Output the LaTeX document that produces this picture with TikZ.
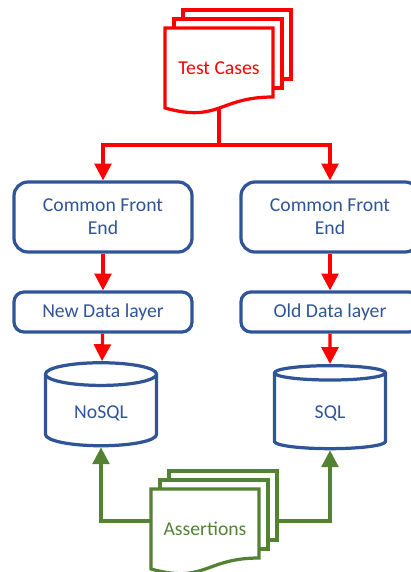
\documentclass[tikz,border=0pt]{standalone}
\usepackage{fontspec}
\setmainfont{Carlito}
\definecolor{rot}{RGB}{255,0,0}
\definecolor{bla}{RGB}{47,85,151}
\definecolor{gru}{RGB}{84,130,53}
\usetikzlibrary{shapes.geometric,arrows.meta}
% stack of three pages: colour, name, x, y (top left of front page), text
\newcommand{\DocStack}[5]{%
\foreach \d in {18,9} {\draw[#1,fill=white] (#3+\d,#4-\d) rectangle (#3+\d+108,#4-\d+69);}
\draw[#1,fill=white] (#3,#4) -- (#3+108,#4) -- (#3+108,#4+69) .. controls (#3+54,#4+69) and (#3+54,#4+95) .. (#3,#4+80) -- cycle;
\node[text=#1] (#2) at (#3+54,#4+40) {#5};
\coordinate (#2-b) at (#3+54,#4+80);
\coordinate (#2-w) at (#3,#4+32);
\coordinate (#2-e) at (#3+126,#4+32);}

\begin{document}
\begin{tikzpicture}[x=0.025cm,y=-0.025cm,line width=2.3pt,font=\fontsize{14}{16.5}\selectfont]
	\tikzstyle{box}=[draw=bla,text=bla,fill=white,rounded corners=0.35cm,minimum width=4.45cm,minimum height=1.75cm,align=center];
	\tikzstyle{layer}=[box,rounded corners=0.25cm,minimum height=1cm];
	\tikzstyle{db}=[draw=bla,text=bla,cylinder,shape border rotate=90,aspect=0.36,minimum width=2.775cm,minimum height=2.075cm];
	\tikzstyle{redarrow}=[rot,-{Triangle[width=12pt,length=12pt]}];
	\tikzstyle{greenarrow}=[gru,-{Triangle[width=12pt,length=12pt]}];
%<--------------------------------------------------------------------------->%
	\clip (0,0) rectangle (411,572);
	\useasboundingbox (0,0) rectangle (411,572);

	\DocStack{rot}{tc}{165}{28}{Test Cases}
	\coordinate (split) at (219,145);

	\node[box] (fe1) at (103,217) {Common Front\\End};
	\node[box] (fe2) at (330,217) {Common Front\\End};
	\node[layer] (dl1) at (103,312) {New Data layer};
	\node[layer] (dl2) at (330,312) {Old Data layer};
	\node[db] (nosql) at (101,413) {NoSQL};
	\node[db] (sql) at (330,413) {SQL};

	\DocStack{gru}{as}{151}{489}{Assertions}

	%% red
	\draw[rot] (tc-b) -- (split);
	\draw[redarrow] (split) -| (fe1.north);
	\draw[redarrow] (split) -| (fe2.north);
	\draw[redarrow] (fe1) -- (dl1);
	\draw[redarrow] (fe2) -- (dl2);
	\draw[redarrow] (dl1) -- (nosql);
	\draw[redarrow] (dl2) -- (sql);
	%% green
	\draw[greenarrow] (as-w) -| (nosql.south);
	\draw[greenarrow] (as-e) -| (sql.south);
\end{tikzpicture}
\end{document}
